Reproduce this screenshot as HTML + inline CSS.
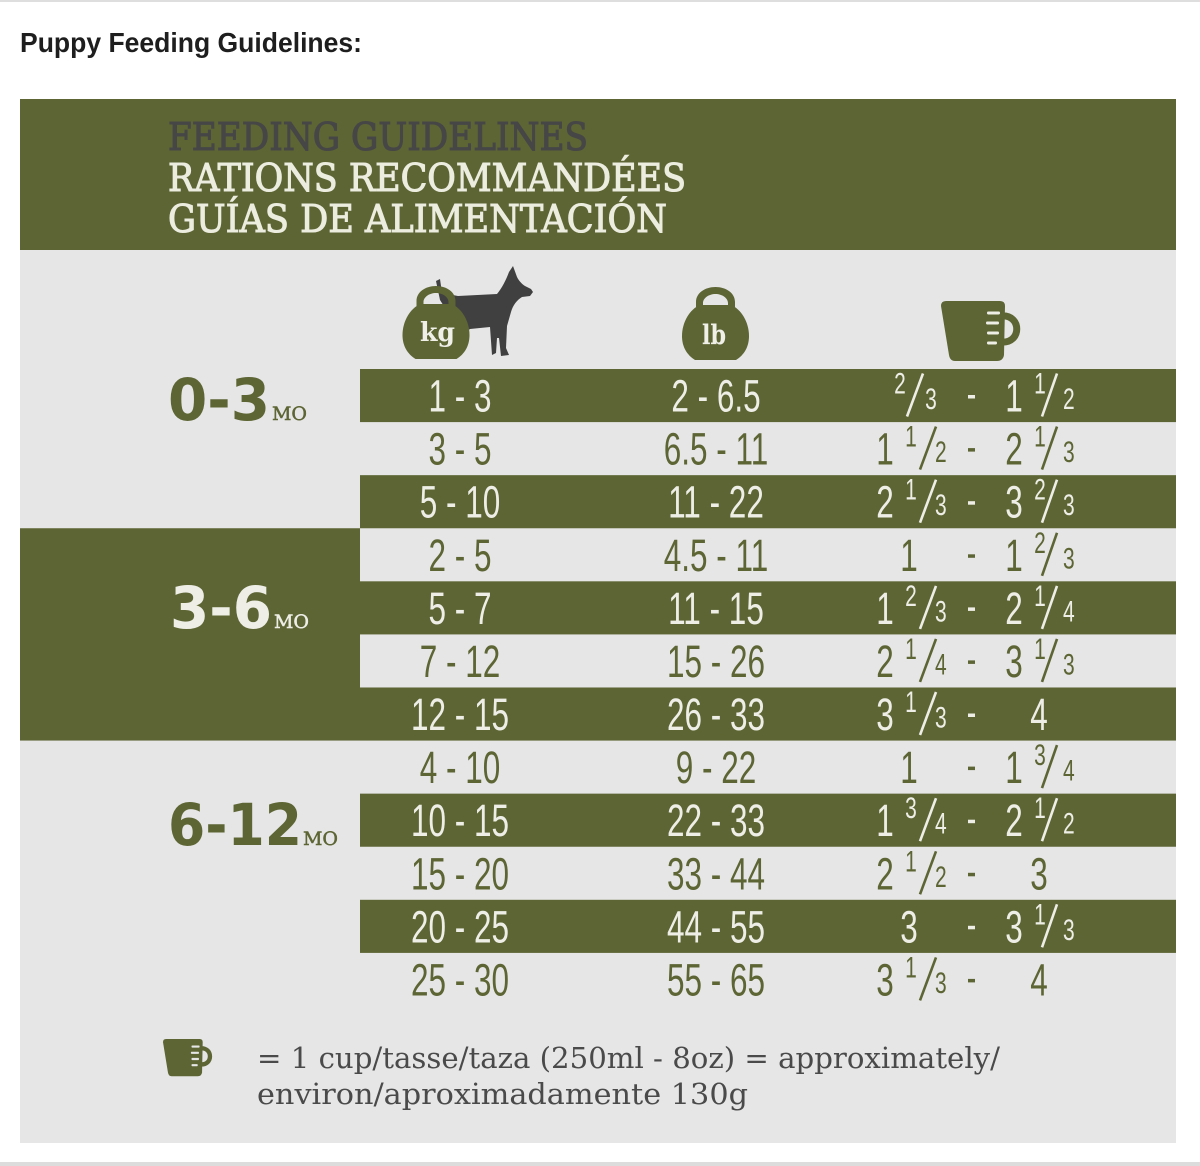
<!DOCTYPE html>
<html>
<head>
<meta charset="utf-8">
<style>
  html,body{margin:0;padding:0;background:#fff;}
  svg{display:block;}
  .n{font-family:"Liberation Sans",sans-serif;font-size:45px;text-anchor:middle;}
  .s{font-family:"Liberation Sans",sans-serif;font-size:30px;text-anchor:middle;}
  .L{fill:#eeeee6;}
  .G{fill:#5d6534;}
  .sl{stroke-width:2.6;}
  .sL{stroke:#eeeee6;}
  .sG{stroke:#5d6534;}
</style>
</head>
<body>
<svg width="1200" height="1166" viewBox="0 0 1200 1166" xmlns="http://www.w3.org/2000/svg">
  <rect width="1200" height="1166" fill="#ffffff"/>
  <rect x="0" y="0" width="1200" height="2" fill="#dedede"/>
  <rect x="0" y="1162" width="1200" height="4" fill="#dcdcdc"/>

  <text x="20" y="52" font-family="Liberation Sans, sans-serif" font-weight="bold" font-size="28" fill="#1e1e1e" textLength="342" lengthAdjust="spacingAndGlyphs">Puppy Feeding Guidelines:</text>

  <!-- main box -->
  <rect x="20" y="99" width="1156" height="1044" fill="#e6e6e6"/>
  <rect x="20" y="99" width="1156" height="151" fill="#5d6534"/>

  <g font-family="DejaVu Serif, serif" font-size="38" stroke-width="1.1">
    <text x="168" y="150" fill="#464646" stroke="#464646" textLength="420" lengthAdjust="spacingAndGlyphs">FEEDING GUIDELINES</text>
    <text x="168" y="191" fill="#ececdf" stroke="#ececdf" textLength="518" lengthAdjust="spacingAndGlyphs">RATIONS RECOMMANDÉES</text>
    <text x="168" y="232" fill="#ececdf" stroke="#ececdf" textLength="499" lengthAdjust="spacingAndGlyphs">GUÍAS DE ALIMENTACIÓN</text>
  </g>

  <!-- stripes -->
  <g fill="#5d6534">
    <rect x="360" y="369" width="816" height="53.1"/>
    <rect x="360" y="475.16" width="816" height="53.1"/>
    <rect x="360" y="581.32" width="816" height="53.1"/>
    <rect x="360" y="687.48" width="816" height="53.1"/>
    <rect x="360" y="793.64" width="816" height="53.1"/>
    <rect x="360" y="899.8" width="816" height="53.1"/>
    <rect x="20" y="528.24" width="340" height="212.32"/>
  </g>

  <!-- age labels -->
  <text x="168" y="420" font-family="DejaVu Sans, sans-serif" font-weight="bold" font-size="58" fill="#5d6534" textLength="102" lengthAdjust="spacingAndGlyphs">0-3</text>
  <text x="272" y="420" font-family="DejaVu Serif, serif" font-size="19" fill="#5d6534" stroke="#5d6534" stroke-width="0.5" textLength="35" lengthAdjust="spacingAndGlyphs">MO</text>
  <text x="170" y="628" font-family="DejaVu Sans, sans-serif" font-weight="bold" font-size="58" fill="#eeeee6" textLength="102" lengthAdjust="spacingAndGlyphs">3-6</text>
  <text x="274" y="628" font-family="DejaVu Serif, serif" font-size="19" fill="#eeeee6" stroke="#eeeee6" stroke-width="0.5" textLength="35" lengthAdjust="spacingAndGlyphs">MO</text>
  <text x="168" y="845" font-family="DejaVu Sans, sans-serif" font-weight="bold" font-size="58" fill="#5d6534" textLength="134" lengthAdjust="spacingAndGlyphs">6-12</text>
  <text x="303" y="845" font-family="DejaVu Serif, serif" font-size="19" fill="#5d6534" stroke="#5d6534" stroke-width="0.5" textLength="35" lengthAdjust="spacingAndGlyphs">MO</text>

  <!-- dog -->
  <path fill="#404040" d="M436,281 L440,279 L442,293 L458,296 L497,294 C502,288 506,280 509,272 L513,266 L517,277 C519,281 522,284 525,286 L531,289 L533,292 L530,296 L522,297 C517,300 513,305 511,312 L507,326 L506,348 L509,355 L501,356 L499,338 L497,338 L496,353 L492,355 L490,327 L470,329 L462,335 L440,300 Z"/>

  <!-- lb kettlebell -->
  <g>
    <path fill="#5d6534" d="M700,305 C690,309 682,322 682,336 C682,347 687,355 695,360 L736,360 C744,355 749,347 749,336 C749,322 741,309 731,305 Z"/>
    <path fill="#5d6534" fill-rule="evenodd" d="M696,307 L696,302 C696,293 705,287 715.5,287 C726,287 735,293 735,302 L735,307 Z M703,305.5 L703,303 C703,298 709,294 715.5,294 C722,294 728,298 728,303 L728,305.5 Z"/>
  </g>
  <g transform="translate(-279.5,-1)">
    <path fill="#5d6534" d="M700,305 C690,309 682,322 682,336 C682,347 687,355 695,360 L736,360 C744,355 749,347 749,336 C749,322 741,309 731,305 Z"/>
    <path fill="#5d6534" fill-rule="evenodd" d="M696,307 L696,302 C696,293 705,287 715.5,287 C726,287 735,293 735,302 L735,307 Z M703,305.5 L703,303 C703,298 709,294 715.5,294 C722,294 728,298 728,303 L728,305.5 Z"/>
  </g>
  <text x="420" y="341" font-family="DejaVu Serif, serif" font-weight="bold" font-size="26" fill="#f0f0e8" textLength="35" lengthAdjust="spacingAndGlyphs">kg</text>
  <text x="702" y="344" font-family="DejaVu Serif, serif" font-weight="bold" font-size="27" fill="#f0f0e8" textLength="24" lengthAdjust="spacingAndGlyphs">lb</text>

  <!-- cup -->
  <g>
    <path fill="#5d6534" d="M946,301 L1000,301 Q1005,301 1005,306 L1004,355 Q1003,361 997,361 L955,361 Q950,361 949,355 L941,306 Q941,301 946,301 Z"/>
    <path fill="none" stroke="#5d6534" stroke-width="7" d="M1001,316 C1022,314 1022,344 1001,342"/>
    <g fill="#eeeee6">
      <rect x="987" y="311.5" width="13" height="3" rx="1.2"/>
      <rect x="986" y="321.5" width="13" height="3" rx="1.2"/>
      <rect x="987" y="331.5" width="12" height="3" rx="1.2"/>
      <rect x="987" y="341.5" width="10" height="3" rx="1.2"/>
    </g>
  </g>

  <!-- kg / lb numbers -->
  <g transform="scale(0.7,1)">
    <text class="n L" x="657.14" y="411.5">1 - 3</text>
    <text class="n L" x="1022.86" y="411.5">2 - 6.5</text>
    <text class="n G" x="657.14" y="464.6">3 - 5</text>
    <text class="n G" x="1022.86" y="464.6">6.5 - 11</text>
    <text class="n L" x="657.14" y="517.7">5 - 10</text>
    <text class="n L" x="1022.86" y="517.7">11 - 22</text>
    <text class="n G" x="657.14" y="570.8">2 - 5</text>
    <text class="n G" x="1022.86" y="570.8">4.5 - 11</text>
    <text class="n L" x="657.14" y="623.9">5 - 7</text>
    <text class="n L" x="1022.86" y="623.9">11 - 15</text>
    <text class="n G" x="657.14" y="676.9">7 - 12</text>
    <text class="n G" x="1022.86" y="676.9">15 - 26</text>
    <text class="n L" x="657.14" y="730">12 - 15</text>
    <text class="n L" x="1022.86" y="730">26 - 33</text>
    <text class="n G" x="657.14" y="783.1">4 - 10</text>
    <text class="n G" x="1022.86" y="783.1">9 - 22</text>
    <text class="n L" x="657.14" y="836.2">10 - 15</text>
    <text class="n L" x="1022.86" y="836.2">22 - 33</text>
    <text class="n G" x="657.14" y="889.3">15 - 20</text>
    <text class="n G" x="1022.86" y="889.3">33 - 44</text>
    <text class="n L" x="657.14" y="942.3">20 - 25</text>
    <text class="n L" x="1022.86" y="942.3">44 - 55</text>
    <text class="n G" x="657.14" y="995.4">25 - 30</text>
    <text class="n G" x="1022.86" y="995.4">55 - 65</text>

    <!-- cup column digits -->
    <text class="s L" x="1285.7" y="393.5">2</text>
    <text class="s L" x="1330" y="409">3</text>
    <text class="n L" x="1448.6" y="411.5">1</text>
    <text class="s L" x="1485.7" y="393.5">1</text>
    <text class="s L" x="1527" y="409">2</text>

    <text class="n G" x="1264.3" y="464.6">1</text>
    <text class="s G" x="1301.4" y="446.6">1</text>
    <text class="s G" x="1344" y="462.1">2</text>
    <text class="n G" x="1448.6" y="464.6">2</text>
    <text class="s G" x="1485.7" y="446.6">1</text>
    <text class="s G" x="1527" y="462.1">3</text>

    <text class="n L" x="1264.3" y="517.7">2</text>
    <text class="s L" x="1301.4" y="499.7">1</text>
    <text class="s L" x="1344" y="515.2">3</text>
    <text class="n L" x="1448.6" y="517.7">3</text>
    <text class="s L" x="1485.7" y="499.7">2</text>
    <text class="s L" x="1527" y="515.2">3</text>

    <text class="n G" x="1298.6" y="570.8">1</text>
    <text class="n G" x="1448.6" y="570.8">1</text>
    <text class="s G" x="1485.7" y="552.8">2</text>
    <text class="s G" x="1527" y="568.3">3</text>

    <text class="n L" x="1264.3" y="623.9">1</text>
    <text class="s L" x="1301.4" y="605.9">2</text>
    <text class="s L" x="1344" y="621.4">3</text>
    <text class="n L" x="1448.6" y="623.9">2</text>
    <text class="s L" x="1485.7" y="605.9">1</text>
    <text class="s L" x="1527" y="621.4">4</text>

    <text class="n G" x="1264.3" y="676.9">2</text>
    <text class="s G" x="1301.4" y="658.9">1</text>
    <text class="s G" x="1344" y="674.4">4</text>
    <text class="n G" x="1448.6" y="676.9">3</text>
    <text class="s G" x="1485.7" y="658.9">1</text>
    <text class="s G" x="1527" y="674.4">3</text>

    <text class="n L" x="1264.3" y="730">3</text>
    <text class="s L" x="1301.4" y="712">1</text>
    <text class="s L" x="1344" y="727.5">3</text>
    <text class="n L" x="1484.3" y="730">4</text>

    <text class="n G" x="1298.6" y="783.1">1</text>
    <text class="n G" x="1448.6" y="783.1">1</text>
    <text class="s G" x="1485.7" y="765.1">3</text>
    <text class="s G" x="1527" y="780.6">4</text>

    <text class="n L" x="1264.3" y="836.2">1</text>
    <text class="s L" x="1301.4" y="818.2">3</text>
    <text class="s L" x="1344" y="833.7">4</text>
    <text class="n L" x="1448.6" y="836.2">2</text>
    <text class="s L" x="1485.7" y="818.2">1</text>
    <text class="s L" x="1527" y="833.7">2</text>

    <text class="n G" x="1264.3" y="889.3">2</text>
    <text class="s G" x="1301.4" y="871.3">1</text>
    <text class="s G" x="1344" y="886.8">2</text>
    <text class="n G" x="1484.3" y="889.3">3</text>

    <text class="n L" x="1298.6" y="942.3">3</text>
    <text class="n L" x="1448.6" y="942.3">3</text>
    <text class="s L" x="1485.7" y="924.3">1</text>
    <text class="s L" x="1527" y="939.8">3</text>

    <text class="n G" x="1264.3" y="995.4">3</text>
    <text class="s G" x="1301.4" y="977.4">1</text>
    <text class="s G" x="1344" y="992.9">3</text>
    <text class="n G" x="1484.3" y="995.4">4</text>
  </g>

  <!-- cup column hyphens -->
  <g>
    <rect x="968" y="395" width="7" height="3.5" fill="#eeeee6"/>
    <rect x="968" y="448.1" width="7" height="3.5" fill="#5d6534"/>
    <rect x="968" y="501.2" width="7" height="3.5" fill="#eeeee6"/>
    <rect x="968" y="554.3" width="7" height="3.5" fill="#5d6534"/>
    <rect x="968" y="607.4" width="7" height="3.5" fill="#eeeee6"/>
    <rect x="968" y="660.4" width="7" height="3.5" fill="#5d6534"/>
    <rect x="968" y="713.5" width="7" height="3.5" fill="#eeeee6"/>
    <rect x="968" y="766.6" width="7" height="3.5" fill="#5d6534"/>
    <rect x="968" y="819.7" width="7" height="3.5" fill="#eeeee6"/>
    <rect x="968" y="872.8" width="7" height="3.5" fill="#5d6534"/>
    <rect x="968" y="925.8" width="7" height="3.5" fill="#eeeee6"/>
    <rect x="968" y="978.9" width="7" height="3.5" fill="#5d6534"/>
  </g>

  <!-- fraction slashes -->
  <g class="sl">
    <line class="sL" x1="923" y1="373.5" x2="907" y2="416.5"/>
    <line class="sL" x1="1057" y1="373.5" x2="1042" y2="416.5"/>
    <line class="sG" x1="936" y1="426.6" x2="920" y2="469.6"/>
    <line class="sG" x1="1057" y1="426.6" x2="1042" y2="469.6"/>
    <line class="sL" x1="936" y1="479.7" x2="920" y2="522.7"/>
    <line class="sL" x1="1057" y1="479.7" x2="1042" y2="522.7"/>
    <line class="sG" x1="1057" y1="532.8" x2="1042" y2="575.8"/>
    <line class="sL" x1="936" y1="585.9" x2="920" y2="628.9"/>
    <line class="sL" x1="1057" y1="585.9" x2="1042" y2="628.9"/>
    <line class="sG" x1="936" y1="638.9" x2="920" y2="681.9"/>
    <line class="sG" x1="1057" y1="638.9" x2="1042" y2="681.9"/>
    <line class="sL" x1="936" y1="692" x2="920" y2="735"/>
    <line class="sG" x1="1057" y1="745.1" x2="1042" y2="788.1"/>
    <line class="sL" x1="936" y1="798.2" x2="920" y2="841.2"/>
    <line class="sL" x1="1057" y1="798.2" x2="1042" y2="841.2"/>
    <line class="sG" x1="936" y1="851.3" x2="920" y2="894.3"/>
    <line class="sL" x1="1057" y1="904.3" x2="1042" y2="947.3"/>
    <line class="sG" x1="936" y1="957.4" x2="920" y2="1000.4"/>
  </g>

  <!-- footer -->
  <g transform="translate(163,1039) scale(0.62) translate(-941,-301)">
    <path fill="#5d6534" d="M946,301 L1000,301 Q1005,301 1005,306 L1004,355 Q1003,361 997,361 L955,361 Q950,361 949,355 L941,306 Q941,301 946,301 Z"/>
    <path fill="none" stroke="#5d6534" stroke-width="7" d="M1001,316 C1022,314 1022,344 1001,342"/>
    <g fill="#e6e6e6">
      <rect x="987" y="311.5" width="13" height="3.5" rx="1.2"/>
      <rect x="986" y="321.5" width="13" height="3.5" rx="1.2"/>
      <rect x="987" y="331.5" width="12" height="3.5" rx="1.2"/>
      <rect x="987" y="341.5" width="10" height="3.5" rx="1.2"/>
    </g>
  </g>
  <g font-family="DejaVu Serif, serif" font-size="29" fill="#4a4a4a">
    <text x="257" y="1068" textLength="743" lengthAdjust="spacingAndGlyphs">= 1 cup/tasse/taza (250ml - 8oz) = approximately/</text>
    <text x="257" y="1104" textLength="491" lengthAdjust="spacingAndGlyphs">environ/aproximadamente 130g</text>
  </g>
</svg>
</body>
</html>
